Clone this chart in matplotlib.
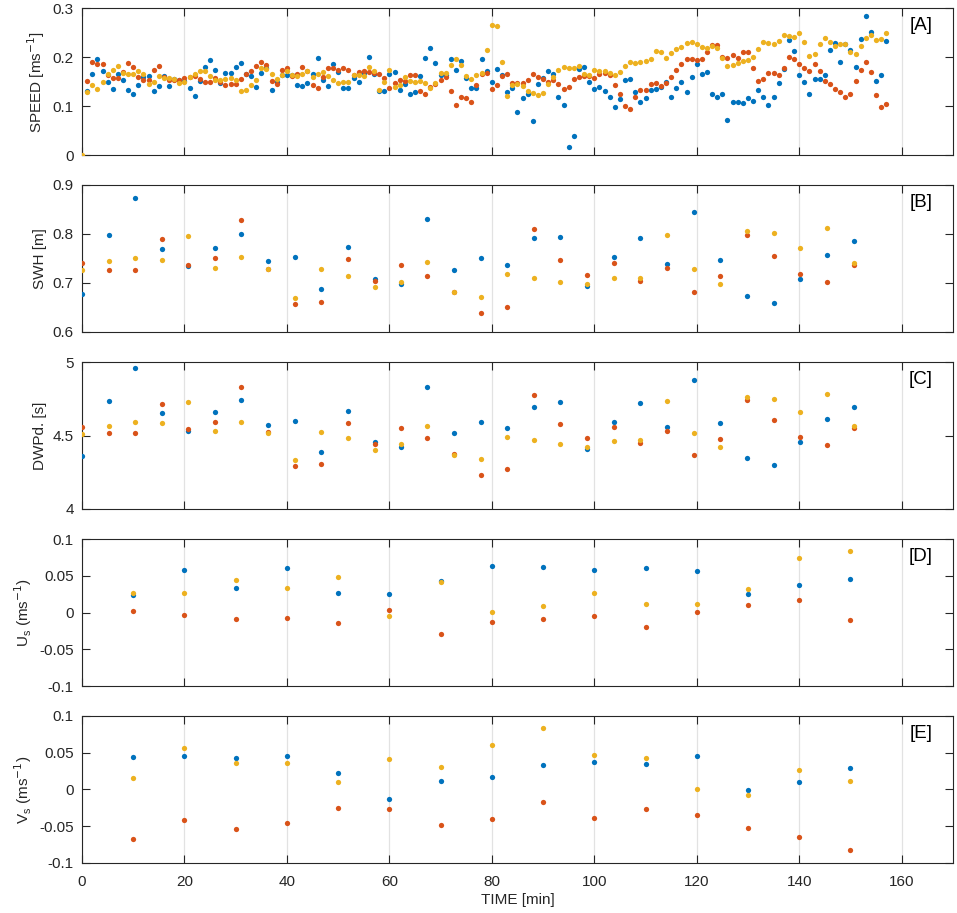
import numpy as np
import matplotlib
matplotlib.use("Agg")
import matplotlib.pyplot as plt
from matplotlib.ticker import FuncFormatter

plt.rcParams['font.family'] = ['Liberation Sans', 'DejaVu Sans']

# Farben wie in MATLAB
BLUE = '#0072BD'
RED = '#D95319'
YELLOW = '#EDB120'
AXCOL = '#262626'

# Panel A: Geschwindigkeit, eine Messung pro Minute
time_a = np.arange(0, 158)
speed_blue = [np.nan,
    0.130, 0.165, 0.196, 0.171, 0.149, 0.135, 0.166, 0.154, 0.133, 0.124,
    0.142, 0.159, 0.161, 0.131, 0.141, 0.161, 0.141, 0.155, 0.153, 0.152,
    0.137, 0.120, 0.152, 0.180, 0.193, 0.173, 0.146, 0.168, 0.168, 0.179,
    0.188, 0.165, 0.162, 0.138, 0.167, 0.178, 0.133, 0.150, 0.163, 0.163,
    0.163, 0.142, 0.140, 0.148, 0.166, 0.198, 0.153, 0.140, 0.186, 0.169,
    0.136, 0.137, 0.157, 0.150, 0.167, 0.200, 0.166, 0.131, 0.131, 0.166,
    0.170, 0.132, 0.145, 0.124, 0.129, 0.161, 0.199, 0.218, 0.187, 0.163,
    0.164, 0.196, 0.173, 0.191, 0.157, 0.137, 0.137, 0.195, 0.171, 0.150,
    0.175, 0.164, 0.129, 0.137, 0.087, 0.116, 0.124, 0.069, 0.144, 0.158,
    0.171, 0.165, 0.119, 0.102, 0.017, 0.038, 0.175, 0.180, 0.150, 0.135,
    0.139, 0.131, 0.119, 0.099, 0.114, 0.154, 0.156, 0.128, 0.109, 0.116,
    0.133, 0.134, 0.139, 0.150, 0.118, 0.136, 0.150, 0.129, 0.160, 0.186,
    0.165, 0.169, 0.125, 0.119, 0.124, 0.072, 0.108, 0.108, 0.106, 0.116,
    0.110, 0.133, 0.118, 0.103, 0.119, 0.148, 0.175, 0.234, 0.213, 0.163,
    0.149, 0.124, 0.155, 0.156, 0.163, 0.215, 0.229, 0.190, 0.226, 0.215,
    0.180, 0.237, 0.284, 0.251, 0.152, 0.163, 0.232]
speed_red = [np.nan,
    0.151, 0.190, 0.186, 0.185, 0.163, 0.158, 0.158, 0.169, 0.188, 0.180,
    0.159, 0.153, 0.153, 0.174, 0.182, 0.159, 0.154, 0.153, 0.154, 0.157,
    0.160, 0.162, 0.155, 0.150, 0.149, 0.158, 0.150, 0.142, 0.144, 0.144,
    0.155, 0.166, 0.171, 0.182, 0.190, 0.183, 0.152, 0.144, 0.174, 0.178,
    0.162, 0.166, 0.180, 0.171, 0.142, 0.137, 0.159, 0.178, 0.177, 0.173,
    0.178, 0.173, 0.163, 0.169, 0.171, 0.169, 0.167, 0.165, 0.157, 0.137,
    0.146, 0.154, 0.151, 0.163, 0.164, 0.130, 0.125, 0.139, 0.144, 0.154,
    0.159, 0.131, 0.103, 0.118, 0.116, 0.108, 0.142, 0.165, 0.168, 0.135,
    0.142, 0.162, 0.165, 0.146, 0.148, 0.146, 0.153, 0.166, 0.160, 0.156,
    0.150, 0.154, 0.144, 0.134, 0.139, 0.156, 0.159, 0.161, 0.161, 0.157,
    0.166, 0.168, 0.163, 0.143, 0.125, 0.101, 0.093, 0.118, 0.132, 0.133,
    0.144, 0.148, 0.141, 0.147, 0.159, 0.173, 0.186, 0.195, 0.197, 0.193,
    0.197, 0.210, 0.225, 0.224, 0.201, 0.199, 0.205, 0.199, 0.210, 0.210,
    0.177, 0.152, 0.156, 0.167, 0.168, 0.164, 0.177, 0.201, 0.195, 0.185,
    0.177, 0.172, 0.186, 0.172, 0.152, 0.144, 0.135, 0.129, 0.118, 0.124,
    0.152, 0.174, 0.189, 0.169, 0.123, 0.098, 0.104]
speed_yellow = [0.000,
    0.129, 0.142, 0.135, 0.149, 0.165, 0.173, 0.181, 0.168, 0.166, 0.166,
    0.171, 0.166, 0.144, 0.150, 0.162, 0.158, 0.157, 0.156, 0.146, 0.150,
    0.159, 0.166, 0.172, 0.171, 0.162, 0.154, 0.154, 0.156, 0.158, 0.154,
    0.130, 0.133, 0.143, 0.153, 0.178, 0.176, 0.165, 0.156, 0.163, 0.171,
    0.163, 0.161, 0.166, 0.171, 0.159, 0.166, 0.169, 0.161, 0.153, 0.148,
    0.150, 0.150, 0.163, 0.163, 0.161, 0.179, 0.171, 0.133, 0.150, 0.173,
    0.139, 0.143, 0.159, 0.152, 0.150, 0.152, 0.148, 0.137, 0.148, 0.167,
    0.167, 0.184, 0.197, 0.184, 0.162, 0.155, 0.163, 0.167, 0.214, 0.265,
    0.263, 0.189, 0.121, 0.142, 0.145, 0.140, 0.131, 0.127, 0.122, 0.127,
    0.144, 0.160, 0.174, 0.180, 0.178, 0.178, 0.182, 0.166, 0.163, 0.173,
    0.171, 0.171, 0.167, 0.163, 0.170, 0.182, 0.189, 0.187, 0.190, 0.192,
    0.195, 0.212, 0.210, 0.198, 0.209, 0.216, 0.220, 0.229, 0.231, 0.226,
    0.220, 0.218, 0.222, 0.218, 0.198, 0.181, 0.184, 0.188, 0.192, 0.193,
    0.200, 0.217, 0.230, 0.229, 0.227, 0.232, 0.245, 0.243, 0.240, 0.250,
    0.230, 0.202, 0.207, 0.226, 0.239, 0.231, 0.222, 0.227, 0.227, 0.211,
    0.207, 0.223, 0.239, 0.245, 0.235, 0.236, 0.250]

# Panels B und C: Wellenparameter
time_b = [0.0, 5.2, 10.4, 15.6, 20.7, 25.9, 31.1, 36.3, 41.5, 46.7,
          51.9, 57.1, 62.3, 67.4, 72.6, 77.8, 83.0, 88.2, 93.4, 98.6,
          103.8, 109.0, 114.2, 119.4, 124.6, 129.8, 135.0, 140.2, 145.4, 150.6]
swh_blue = [0.677, 0.797, 0.874, 0.770, 0.734, 0.772, 0.800, 0.745, 0.754, 0.688,
            0.774, 0.709, 0.698, 0.831, 0.727, 0.751, 0.736, 0.792, 0.794, 0.694,
            0.752, 0.791, 0.738, 0.844, 0.747, 0.673, 0.660, 0.708, 0.758, 0.785]
swh_red = [0.740, 0.727, 0.727, 0.790, 0.736, 0.750, 0.829, 0.729, 0.658, 0.661,
           0.749, 0.705, 0.737, 0.715, 0.681, 0.639, 0.650, 0.811, 0.747, 0.717,
           0.740, 0.705, 0.731, 0.681, 0.715, 0.798, 0.756, 0.718, 0.701, 0.737]
swh_yellow = [0.726, 0.745, 0.750, 0.747, 0.795, 0.731, 0.753, 0.728, 0.670, 0.728,
              0.715, 0.691, 0.702, 0.743, 0.681, 0.671, 0.719, 0.711, 0.702, 0.698,
              0.710, 0.710, 0.797, 0.728, 0.698, 0.806, 0.802, 0.772, 0.813, 0.741]
dwp_blue = [4.361, 4.732, 4.957, 4.652, 4.532, 4.659, 4.741, 4.570, 4.600, 4.391,
            4.664, 4.457, 4.425, 4.832, 4.516, 4.591, 4.548, 4.695, 4.725, 4.411,
            4.595, 4.718, 4.555, 4.875, 4.584, 4.345, 4.302, 4.457, 4.611, 4.695]
dwp_red = [4.559, 4.516, 4.514, 4.711, 4.541, 4.589, 4.827, 4.521, 4.295, 4.307,
           4.586, 4.445, 4.550, 4.480, 4.371, 4.234, 4.270, 4.775, 4.577, 4.484,
           4.559, 4.450, 4.530, 4.370, 4.477, 4.741, 4.607, 4.489, 4.436, 4.548]
dwp_yellow = [4.511, 4.568, 4.589, 4.584, 4.727, 4.530, 4.595, 4.520, 4.334, 4.523,
              4.480, 4.402, 4.439, 4.566, 4.370, 4.339, 4.491, 4.466, 4.439, 4.425,
              4.464, 4.466, 4.736, 4.520, 4.423, 4.761, 4.745, 4.657, 4.780, 4.564]

# Panels D und E: Stokes-Drift
time_d = [10, 20, 30, 40, 50, 60, 70, 80, 90, 100, 110, 120, 130, 140, 150]
us_blue = [0.024, 0.058, 0.033, 0.060, 0.026, 0.025, 0.043, 0.063, 0.062, 0.058,
           0.061, 0.056, 0.025, 0.037, 0.046]
us_red = [0.002, -0.004, -0.009, -0.007, -0.014, 0.003, -0.029, -0.013, -0.009, -0.005,
          -0.020, 0.001, 0.010, 0.017, -0.010]
us_yellow = [0.027, 0.027, 0.044, 0.033, 0.049, -0.005, 0.041, 0.001, 0.009, 0.027,
             0.011, 0.011, 0.032, 0.074, 0.084]
vs_blue = [0.044, 0.045, 0.043, 0.046, 0.023, -0.013, 0.012, 0.017, 0.033, 0.038,
           0.034, 0.045, -0.001, 0.010, 0.029]
vs_red = [-0.068, -0.042, -0.054, -0.046, -0.025, -0.027, -0.048, -0.040, -0.017, -0.039,
          -0.027, -0.035, -0.052, -0.064, -0.083]
vs_yellow = [0.015, 0.057, 0.036, 0.036, 0.010, 0.041, 0.030, 0.060, 0.083, 0.047,
             0.043, 0.000, -0.008, 0.027, 0.012]

panels = [
    ("[A]", "SPEED [ms$^{-1}$]", time_a, (speed_blue, speed_red, speed_yellow),
     (0, 0.3), [0, 0.1, 0.2, 0.3]),
    ("[B]", "SWH [m]", time_b, (swh_blue, swh_red, swh_yellow),
     (0.6, 0.9), [0.6, 0.7, 0.8, 0.9]),
    ("[C]", "DWPd. [s]", time_b, (dwp_blue, dwp_red, dwp_yellow),
     (4, 5), [4, 4.5, 5]),
    ("[D]", "U$_{\\mathregular{s}}$ (ms$^{-1}$)", time_d, (us_blue, us_red, us_yellow),
     (-0.1, 0.1), [-0.1, -0.05, 0, 0.05, 0.1]),
    ("[E]", "V$_{\\mathregular{s}}$ (ms$^{-1}$)", time_d, (vs_blue, vs_red, vs_yellow),
     (-0.1, 0.1), [-0.1, -0.05, 0, 0.05, 0.1]),
]

fig = plt.figure(figsize=(9.57, 9.13), dpi=100)
bottoms = [0.8302, 0.6364, 0.4425, 0.2486, 0.0548]
fmt = FuncFormatter(lambda v, pos: "%g" % round(v, 4))

for i, (tag, ylabel, t, series, ylim, yticks) in enumerate(panels):
    ax = fig.add_axes([0.0857, bottoms[i], 0.910, 0.161])
    for values, col in zip(series, (BLUE, RED, YELLOW)):
        ax.plot(t, values, 'o', color=col, ms=3.8, mew=0, zorder=3)
    ax.set_xlim(0, 170)
    ax.set_xticks(range(0, 161, 20))
    ax.set_ylim(*ylim)
    ax.set_yticks(yticks)
    ax.yaxis.set_major_formatter(fmt)
    ax.grid(axis='x', color='#e2e2e2', lw=0.9)
    ax.set_axisbelow(True)
    ax.tick_params(direction='in', top=True, right=True, length=6, width=0.8,
                   colors=AXCOL, labelsize=11)
    ax.tick_params(axis='y', pad=6)
    ax.tick_params(axis='x', pad=8.5)
    for sp in ax.spines.values():
        sp.set_color(AXCOL)
        sp.set_linewidth(0.8)
    ax.set_ylabel(ylabel, fontsize=11, color=AXCOL)
    ax.text(0.963, 0.88, tag, transform=ax.transAxes, ha='center', va='center',
            fontsize=13.5, color='black')
    if i < len(panels) - 1:
        ax.set_xticklabels([])
    else:
        ax.set_xlabel("TIME [min]", fontsize=11, color=AXCOL, labelpad=3)

fig.savefig("out.png", dpi=100)
